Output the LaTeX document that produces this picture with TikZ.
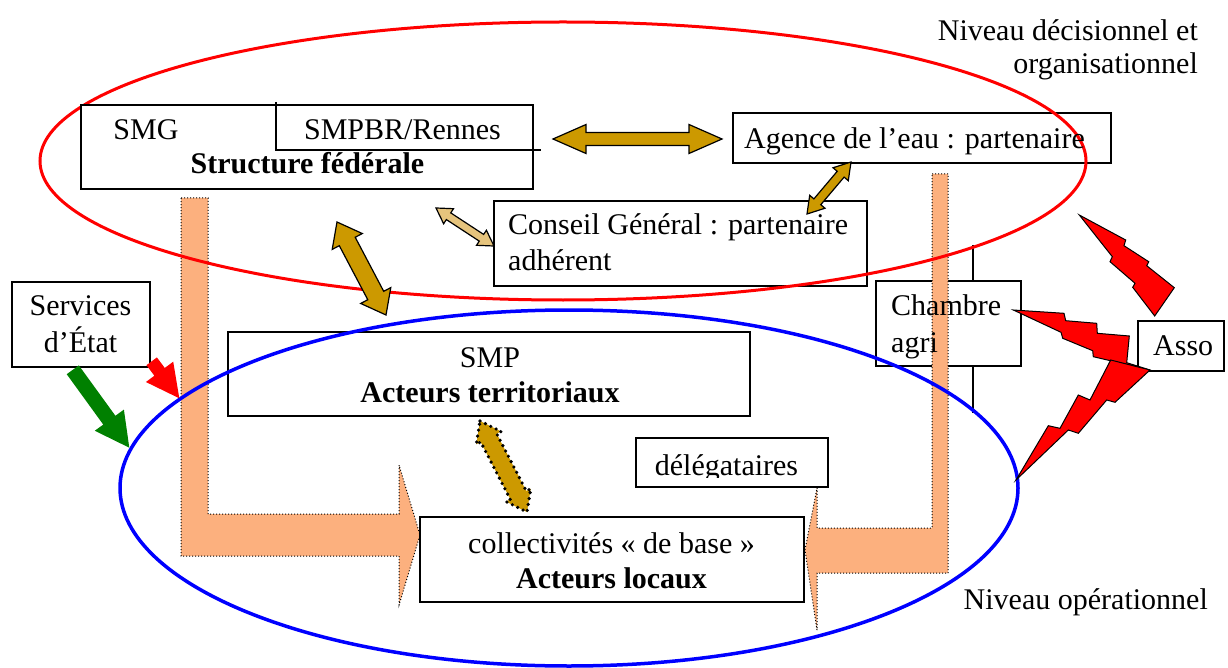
\documentclass[tikz,border=0pt]{standalone}
\usepackage{fontspec}
\setmainfont{Liberation Serif}
\usetikzlibrary{calc}
\definecolor{orng}{RGB}{252,176,126}
\definecolor{goldc}{RGB}{204,153,0}
\definecolor{lighttan}{RGB}{230,196,125}
\definecolor{grn}{RGB}{0,128,0}
% #1 style, #2 A, #3 B, #4 head length, #5 head half-width, #6 shaft half-width
\newcommand\dblarrow[6]{%
 \path[#1] (#2)
 -- ($(#2)!#4!(#3)!#5!90:(#3)$)
 -- ($(#2)!#4!(#3)!#6!90:(#3)$)
 -- ($(#3)!#4!(#2)!#6!-90:(#2)$)
 -- ($(#3)!#4!(#2)!#5!-90:(#2)$)
 -- (#3)
 -- ($(#3)!#4!(#2)!#5!90:(#2)$)
 -- ($(#3)!#4!(#2)!#6!90:(#2)$)
 -- ($(#2)!#4!(#3)!#6!-90:(#3)$)
 -- ($(#2)!#4!(#3)!#5!-90:(#3)$)
 -- cycle;}
\newcommand\sglarrow[6]{%
 \path[#1] ($(#2)!#6!90:(#3)$)
 -- ($(#3)!#4!(#2)!#6!-90:(#2)$)
 -- ($(#3)!#4!(#2)!#5!-90:(#2)$)
 -- (#3)
 -- ($(#3)!#4!(#2)!#5!90:(#2)$)
 -- ($(#3)!#4!(#2)!#6!90:(#2)$)
 -- ($(#2)!#6!-90:(#3)$)
 -- cycle;}
\tikzset{
 box/.style={draw=black, line width=1.2pt, inner sep=0pt, outer sep=0pt},
 txt/.style={font=\fontsize{30pt}{35pt}\selectfont, inner sep=0pt, anchor=base},
 btxt/.style={font=\fontsize{30pt}{35pt}\selectfont\bfseries, inner sep=0pt, anchor=base},
 orarrow/.style={fill=orng, draw=black, line width=1pt, dash pattern=on 1pt off 2pt},
 goldarrow/.style={fill=goldc, draw=black, line width=1.2pt, line join=miter},
 tanarrow/.style={fill=lighttan, draw=black, line width=1.2pt, line join=miter},
 dotarrow/.style={fill=goldc, draw=black, line width=3.6pt, dash pattern=on 0pt off 6pt, line cap=round},
 bolt/.style={fill=red, draw=black, line width=1pt, line join=miter},
}
\begin{document}
\begin{tikzpicture}[x=1pt, y=-1pt]
\useasboundingbox (0,0) rectangle (1228,668);
\fill[white] (0,0) rectangle (1228,668);

% thin line through Chambre agri
\coordinate (vl1) at (973,245);
\coordinate (vl2) at (973,413);
\draw[line width=1.2pt] (vl1) -- (vl2);
\node[box, fill=white, minimum width=145pt, minimum height=85pt] (ch) at (948.5,323.5) {};

% orange bent arrows
\path[orarrow] (181,198) -- (208,198) -- (208,514) -- (399,514) -- (399,465)
  -- (420,535) -- (399,605) -- (399,556) -- (181,556) -- cycle;
\path[orarrow] (932,174) -- (948,174) -- (948,573) -- (817,573) -- (817,630)
  -- (805,550) -- (817,488) -- (817,528) -- (932,528) -- cycle;

% boxes under ellipses
\node[box, minimum width=378pt, minimum height=50pt] (ag) at (922,138) {};
\node[box, minimum width=373pt, minimum height=85pt] (cg) at (680.5,243.5) {};
\node[box, minimum width=138pt, minimum height=85pt] (se) at (81,324.5) {};
\node[box, minimum width=522pt, minimum height=84pt] (smp) at (489,374) {};
\node[box, minimum width=384pt, minimum height=85pt] (col) at (612,559.5) {};
\node[box, minimum width=192pt, minimum height=49pt] (del) at (732,462.5) {};
\node[box, fill=white, minimum width=86pt, minimum height=50pt] (asso) at (1181,346) {};

% ellipses
\draw[red, line width=3pt] (563,161) ellipse [x radius=523pt, y radius=139pt];
\draw[blue, line width=3.5pt] (569,488) ellipse [x radius=449pt, y radius=178pt];

% structure federale
\node[box, fill=white, minimum width=452pt, minimum height=84pt] (sf) at (307,147) {};
\coordinate (in1) at (276,102);
\coordinate (in2) at (276,150);
\coordinate (in3) at (541,150);
\draw[line width=1.2pt] (in1) -- (in2) -- (in3);

% gold arrows
\coordinate (h1) at (553,139); \coordinate (h2) at (722,139);
\dblarrow{goldarrow}{h1}{h2}{33pt}{14.5pt}{6.5pt}
\coordinate (d1) at (851,162); \coordinate (d2) at (807,214);
\dblarrow{goldarrow}{d1}{d2}{16pt}{10pt}{4.5pt}
\coordinate (s1) at (337,222); \coordinate (s2) at (386,315);
\dblarrow{goldarrow}{s1}{s2}{22pt}{17pt}{9pt}
\coordinate (t1) at (436,208); \coordinate (t2) at (494,246);
\dblarrow{tanarrow}{t1}{t2}{15pt}{9pt}{4pt}
\coordinate (p1) at (480,421); \coordinate (p2) at (527,512);
\dblarrow{dotarrow}{p1}{p2}{19pt}{14pt}{9pt}

% red and green arrows
\coordinate (r1) at (151.7,361.3); \coordinate (r2) at (179.3,398.3);
\sglarrow{fill=red}{r1}{r2}{33pt}{17pt}{6.5pt}
\coordinate (g1) at (72.8,369.8); \coordinate (g2) at (129.3,447.7);
\sglarrow{fill=grn}{g1}{g2}{34pt}{18pt}{7.5pt}

% lightning bolts
\path[bolt] (1079.3,215) -- (1125.7,240) -- (1124,245.7) -- (1148.7,261.7)
  -- (1146.7,265.7) -- (1174.3,287.7) -- (1154.7,316) -- (1132.7,287.3)
  -- (1135,283.3) -- (1110,261.7) -- (1112.3,256.7) -- cycle;
\path[bolt] (1013.3,310) -- (1064,313.3) -- (1065.7,320.7) -- (1096.7,323.3)
  -- (1097.3,333.3) -- (1129.3,336) -- (1126.7,362.7) -- (1150,370)
  -- (1093.3,356.7) -- (1092.7,350.7) -- (1062.7,338.3) -- (1061,332.3) -- cycle;
\path[bolt] (1150,370) -- (1115,402.3) -- (1106.7,400) -- (1078.3,433.3)
  -- (1068.3,430) -- (1016,480) -- (1048.3,425.7) -- (1060,428.3)
  -- (1078.3,395) -- (1090,400) -- (1110.7,360) -- cycle;

% texts
\node[txt] (tsmg) at (146,140) {SMG};
\node[txt] (tsmpbr) at (402.5,140) {SMPBR/Rennes};
\node[btxt] (tsf) at (307.5,174) {Structure fédérale};
\node[txt] (tag) at (914.5,149) {Agence de l’eau : partenaire};
\node[txt, anchor=base west] (tcg1) at (508,235) {Conseil Général : partenaire};
\node[txt, anchor=base west] (tcg2) at (508,270) {adhérent};
\node[txt] (tse1) at (80.5,315) {Services};
\node[txt] (tse2) at (80.5,352) {d’État};
\node[txt] (tsmp1) at (490,367) {SMP};
\node[btxt] (tsmp2) at (490,402) {Acteurs territoriaux};
\node[txt] (tcol1) at (611.5,553) {collectivités « de base »};
\node[btxt] (tcol2) at (611.5,588) {Acteurs locaux};
\begin{scope}
\clip (636,438) rectangle (828,477);
\node[txt] (tdel) at (726.5,475) {délégataires};
\end{scope}
\node[txt, anchor=base west] (tch1) at (891,315) {Chambre};
\node[txt, anchor=base west] (tch2) at (891,352) {agri};
\node[txt, anchor=base west] (tasso) at (1153,355) {Asso};
\node[txt, anchor=base east] (tn1) at (1198,41) {Niveau décisionnel et};
\node[txt, anchor=base east] (tn2) at (1198,74) {organisationnel};
\node[txt, anchor=base east] (tn3) at (1208,609) {Niveau opérationnel};
\end{tikzpicture}
\end{document}
